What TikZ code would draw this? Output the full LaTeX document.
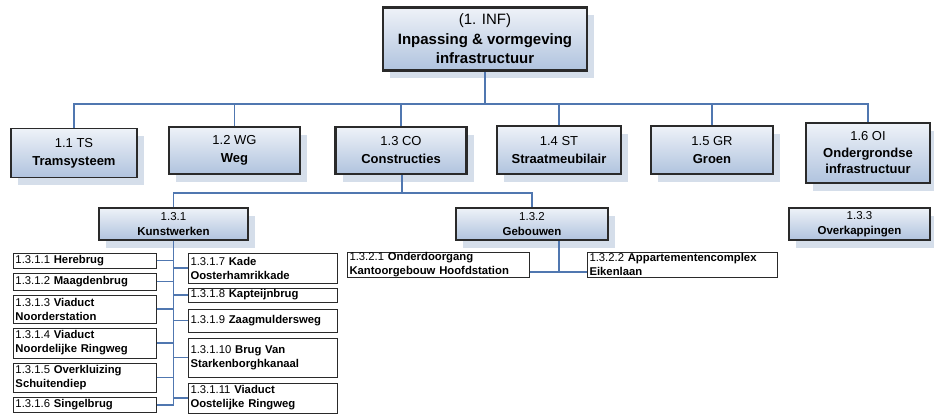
\documentclass[tikz,border=0pt]{standalone}
\usepackage{fontspec}
\setmainfont{Liberation Sans}
\usetikzlibrary{shadows}
\definecolor{conncol}{HTML}{5077B0}
\definecolor{boxline}{HTML}{2A2A2A}
\definecolor{gtop}{HTML}{EEF2F8}
\definecolor{gbot}{HTML}{B0C3DE}
\definecolor{shadc}{HTML}{D5DEEA}
\tikzset{
  conn/.style={draw=conncol, line width=1.3pt},
  shad/.style={drop shadow={shadow xshift=7pt, shadow yshift=-8pt, fill=shadc, opacity=1}},
  lvl/.style={draw=boxline, line width=1.4pt, top color=gtop, bottom color=gbot, shad,
    align=center, inner sep=0pt, font=\fontsize{13}{18}\selectfont},
  lvlthick/.style={lvl, line width=2.8pt},
  sub/.style={lvl, font=\fontsize{11.5}{15}\selectfont},
  leafbox/.style={draw=boxline, line width=1pt, fill=white, align=left, inner xsep=2.5pt,
    inner ysep=0pt, font=\fontsize{11.3}{14}\selectfont},
  lleaf/.style={leafbox, text width=138pt, minimum width=143pt},
  rleaf/.style={leafbox, text width=144pt, minimum width=149pt}
}
\begin{document}
\begin{tikzpicture}[x=1pt, y=-1pt]
\fill[white] (0,0) rectangle (934,414);
\useasboundingbox (0,0) rectangle (934,414);

% top
\node[lvlthick, minimum width=204, minimum height=63, font=\fontsize{15}{19.5}\selectfont] (top) at (485,39)
  {(1. INF)\\\textbf{Inpassing \& vormgeving}\\\textbf{infrastructuur}};

% level 1
\node[lvl, minimum width=126, minimum height=49] (ts) at (74,153) {1.1 TS\\\textbf{Tramsysteem}};
\node[lvl, minimum width=131, minimum height=47] (wg) at (234.5,150.5) {1.2 WG\\\textbf{Weg}};
\node[lvlthick, minimum width=131, minimum height=47] (co) at (401,150.5) {1.3 CO\\\textbf{Constructies}};
\node[lvl, minimum width=124, minimum height=48] (st) at (559,150) {1.4 ST\\\textbf{Straatmeubilair}};
\node[lvl, minimum width=122, minimum height=48] (gr) at (712,150) {1.5 GR\\\textbf{Groen}};
\node[lvl, minimum width=124, minimum height=60, font=\fontsize{13}{16.5}\selectfont] (oi) at (868,153) {1.6 OI\\\textbf{Ondergrondse}\\\textbf{infrastructuur}};

% level 2
\node[sub, minimum width=149, minimum height=32] (kw) at (173.5,224) {1.3.1\\\textbf{Kunstwerken}};
\node[sub, minimum width=152, minimum height=32] (gb) at (532,224) {1.3.2\\\textbf{Gebouwen}};
\node[sub, minimum width=141, minimum height=32] (ok) at (859.5,224) {1.3.3\\\textbf{Overkappingen}};

% leaves left
\node[lleaf, minimum height=15] (l1) at (84.5,260.5) {1.3.1.1 \textbf{Herebrug}};
\node[lleaf, minimum height=17] (l2) at (84.5,281.5) {1.3.1.2 \textbf{Maagdenbrug}};
\node[lleaf, minimum height=28] (l3) at (84.5,309) {1.3.1.3 \textbf{Viaduct}\\\textbf{Noorderstation}};
\node[lleaf, minimum height=30] (l4) at (84.5,343) {1.3.1.4 \textbf{Viaduct}\\\textbf{Noordelijke Ringweg}};
\node[lleaf, minimum height=29] (l5) at (84.5,377.5) {1.3.1.5 \textbf{Overkluizing}\\\textbf{Schuitendiep}};
\node[lleaf, minimum height=15] (l6) at (84.5,405) {1.3.1.6 \textbf{Singelbrug}};
% leaves right
\node[rleaf, minimum height=30] (r7) at (262.5,268) {1.3.1.7 \textbf{Kade}\\\textbf{Oosterhamrikkade}};
\node[rleaf, minimum height=14] (r8) at (262.5,295) {1.3.1.8 \textbf{Kapteijnbrug}};
\node[rleaf, minimum height=23] (r9) at (262.5,320.5) {1.3.1.9 \textbf{Zaagmuldersweg}};
\node[rleaf, minimum height=39] (r10) at (262.5,357.5) {1.3.1.10 \textbf{Brug Van}\\\textbf{Starkenborghkanaal}};
\node[rleaf, minimum height=30] (r11) at (262.5,398) {1.3.1.11 \textbf{Viaduct}\\\textbf{Oostelijke Ringweg}};
% gebouwen leaves
\node[leafbox, text width=177pt, minimum width=182pt, minimum height=25] (g1) at (438,264.5)
  {1.3.2.1 \textbf{Onderdoorgang}\\\textbf{Kantoorgebouw Hoofdstation}};
\node[leafbox, text width=185pt, minimum width=190pt, minimum height=25] (g2) at (682,264.5)
  {1.3.2.2 \textbf{Appartementencomplex}\\\textbf{Eikenlaan}};

% connectors level 1
\coordinate (b1) at (485,104);
\draw[conn] (top.south) -- (top.south |- b1);
\draw[conn] (ts.north) -- (ts.north |- b1) -- (oi.north |- b1) -- (oi.north);
\foreach \n in {wg,co,st,gr} \draw[conn] (\n.north) -- (\n.north |- b1);

% connectors level 2
\coordinate (b2) at (402,193);
\draw[conn] (co.south -| b2) -- (b2);
\draw[conn] (kw.north) -- (kw.north |- b2) -| (gb.north);

% kunstwerken spine
\draw[conn] (kw.south) -- (kw.south |- l6.east);
\foreach \n in {l1,l2,l3,l4,l5,l6} \draw[conn] (\n.east) -- (\n.east -| kw.south);
\foreach \n in {r7,r8,r9,r10,r11} \draw[conn] (\n.west) -- (\n.west -| kw.south);

% gebouwen spine
\coordinate (gj) at (559,272);
\draw[conn] (gj |- gb.south) -- (gj);
\draw[conn] (g1.east |- gj) -- (g2.west |- gj);
\end{tikzpicture}
\end{document}
